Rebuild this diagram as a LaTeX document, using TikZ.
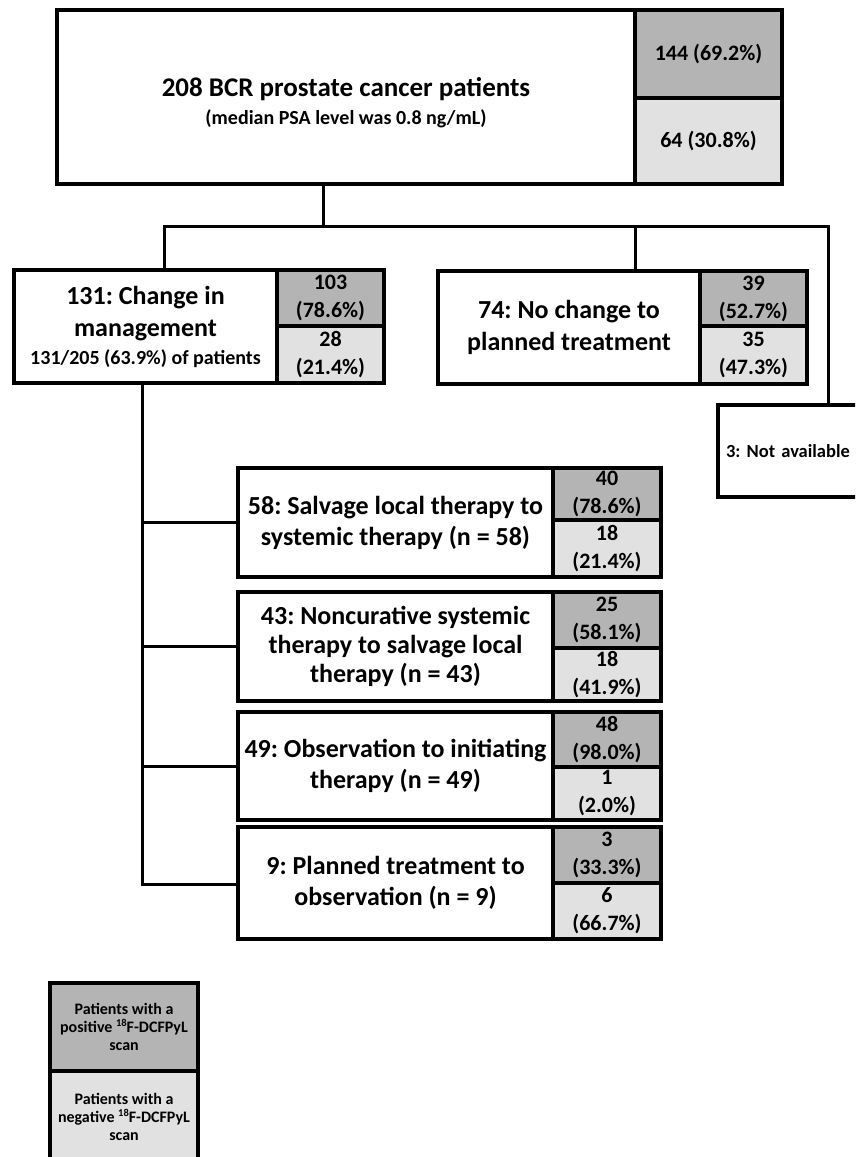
\documentclass[tikz,border=0pt]{standalone}
\usepackage{fontspec}
\setmainfont{Carlito}
\newcommand{\setfs}[2]{\fontsize{#1}{#2}\selectfont}
\newcommand{\supnum}[1]{\raisebox{0.38em}{\fontsize{10.5}{10.5}\selectfont #1}}
\definecolor{posgray}{HTML}{B4B4B4}
\definecolor{neggray}{HTML}{E1E1E1}
\begin{document}
\frenchspacing
\begin{tikzpicture}[x=1pt,y=-1pt,
  bx/.style={draw=black,line width=3.5pt,inner sep=0pt,outer sep=0pt,align=center,font=\bfseries},
  posc/.style={bx,fill=posgray,font=\bfseries\setfs{22}{28}},
  negc/.style={bx,fill=neggray,font=\bfseries\setfs{22}{28}},
  big/.style={font=\bfseries\setfs{26}{31}},
  ln/.style={draw=black,line width=3pt,line join=miter}]
\useasboundingbox (0,0) rectangle (855,1157);
\clip (0,0) rectangle (855,1157);

% top box
\node[bx,minimum width=578pt,minimum height=174pt] (top) at (346,97) {};
\node[inner sep=0pt,align=center,font=\bfseries\setfs{27}{28}] (toptxt) at (346,103)
  {208 BCR prostate cancer patients\\\setfs{20}{28}(median PSA level was 0.8 ng/mL)};
\node[posc,minimum width=147pt,minimum height=88pt] (tp) at (708.5,54) {144 (69.2\%)};
\node[negc,minimum width=147pt,minimum height=86pt] (tn) at (708.5,141) {64 (30.8\%)};

% second level
\node[bx,minimum width=263pt,minimum height=113pt,font=\bfseries\setfs{26}{32}] (b131) at (145.5,326.5)
  {131: Change in\\management\\[-4pt]\setfs{20}{32}131/205 (63.9\%) of patients};
\node[posc,minimum width=107pt,minimum height=56pt] (p131) at (330.5,298) {103\\(78.6\%)};
\node[negc,minimum width=107pt,minimum height=57pt] (n131) at (330.5,354.5) {28\\(21.4\%)};

\node[bx,minimum width=262pt,minimum height=113pt,font=\bfseries\setfs{26}{32}] (b74) at (569,327.5)
  {74: No change to\\planned treatment};
\node[posc,minimum width=107pt,minimum height=55pt] (p74) at (753.5,298.5) {39\\(52.7\%)};
\node[negc,minimum width=107pt,minimum height=58pt] (n74) at (753.5,355) {35\\(47.3\%)};

\node[bx,minimum width=182pt,minimum height=92pt,text width=166pt,align=left,font=\bfseries\setfs{18.5}{22},anchor=north west] (na) at (718,405)
  {3: Not available};

% third level
\node[bx,big,minimum width=315pt,minimum height=109pt] (b58) at (395.5,522.5)
  {58: Salvage local therapy to\\systemic therapy (n = 58)};
\node[posc,minimum width=108pt,minimum height=52pt] (p58) at (607,494) {40\\(78.6\%)};
\node[negc,minimum width=108pt,minimum height=57pt] (n58) at (607,548.5) {18\\(21.4\%)};

\node[bx,minimum width=315pt,minimum height=109pt,font=\bfseries\setfs{26}{29}] (b43) at (395.5,646.5)
  {43: Noncurative systemic\\therapy to salvage local\\therapy (n = 43)};
\node[posc,minimum width=108pt,minimum height=56pt] (p43) at (607,620) {25\\(58.1\%)};
\node[negc,minimum width=108pt,minimum height=53pt] (n43) at (607,674.5) {18\\(41.9\%)};

\node[bx,big,minimum width=315pt,minimum height=108pt] (b49) at (395.5,766)
  {49: Observation to initiating\\therapy (n = 49)};
\node[posc,minimum width=108pt,minimum height=55pt] (p49) at (607,739.5) {48\\(98.0\%)};
\node[negc,minimum width=108pt,minimum height=53pt] (n49) at (607,793.5) {1\\(2.0\%)};

\node[bx,big,minimum width=315pt,minimum height=112pt] (b9) at (395.5,883)
  {9: Planned treatment to\\observation (n = 9)};
\node[posc,minimum width=108pt,minimum height=56pt] (p9) at (607,855) {3\\(33.3\%)};
\node[negc,minimum width=108pt,minimum height=56pt] (n9) at (607,911) {6\\(66.7\%)};

% legend
\node[posc,minimum width=148pt,minimum height=88pt,font=\bfseries\setfs{16}{18}] (lp) at (124,1027)
  {Patients with a\\positive \supnum{18}F-DCFPyL\\scan};
\node[negc,minimum width=148pt,minimum height=91pt,font=\bfseries\setfs{16}{18}] (ln) at (124,1116.5)
  {Patients with a\\negative \supnum{18}F-DCFPyL\\scan};

% connectors
\coordinate (j0) at (323,226);
\coordinate (jl) at (164,226);
\coordinate (jm) at (635,226);
\coordinate (jr) at (828,226);
\coordinate (vx) at (142,884);
\draw[ln] (top.south -| j0) -- (j0);
\draw[ln] (b131.north -| jl) -- (jl) -- (jr) -- (na.north -| jr);
\draw[ln] (jm) -- (b74.north -| jm);
\draw[ln] (b131.south -| vx) -- (vx) -- (b9.west |- vx);
\draw[ln] (b58.west -| vx) -- (b58.west);
\draw[ln] (b43.west -| vx) -- (b43.west);
\draw[ln] (b49.west -| vx) -- (b49.west);
\end{tikzpicture}
\end{document}
